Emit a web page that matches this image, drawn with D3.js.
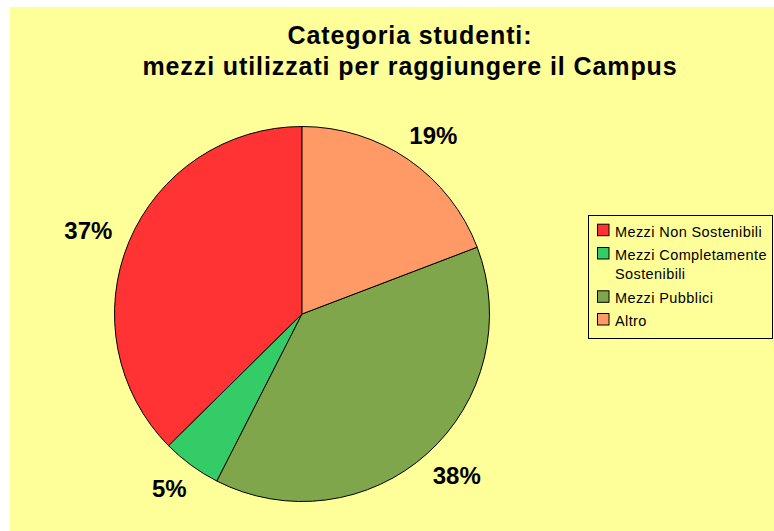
<!DOCTYPE html>
<html>
<head>
<meta charset="utf-8">
<script src="https://cdn.jsdelivr.net/npm/d3@7"></script>
<style>
  body { margin: 0; background: #fff; }
  svg { display: block; }
</style>
</head>
<body>
<svg id="chart"></svg>
<script>
const titleLines = ['Categoria studenti:', 'mezzi utilizzati per raggiungere il Campus'];
const categories = ['Mezzi Non Sostenibili', 'Mezzi Completamente Sostenibili', 'Mezzi Pubblici', 'Altro'];
const legendLines = [['Mezzi Non Sostenibili'], ['Mezzi Completamente', 'Sostenibili'], ['Mezzi Pubblici'], ['Altro']];
const values = [37.4, 5.1, 38.3, 19.2];
const colors = ['#ff3333', '#33cc66', '#7fa64a', '#ff9966'];

const width = 774, height = 531;
const cx = 302, cy = 314, radius = 187.5;

const svg = d3.select('#chart')
  .attr('width', width)
  .attr('height', height)
  .style('font-family', '"Liberation Sans", Arial, sans-serif');

// chart area background
svg.append('rect')
  .attr('x', 10).attr('y', 7)
  .attr('width', width - 10).attr('height', height - 7)
  .attr('fill', '#ffff99');

// title
svg.append('g')
  .selectAll('text')
  .data(titleLines)
  .join('text')
  .attr('x', 410)
  .attr('y', (d, i) => 44 + i * 31)
  .attr('text-anchor', 'middle')
  .attr('font-size', 25)
  .attr('font-weight', 'bold')
  .attr('letter-spacing', 0.9)
  .text(d => d);

// pie, drawn counterclockwise from 12 o'clock
const data = categories.map((c, i) => ({ name: c, value: values[i] }));
const pie = d3.pie().sort(null).value(d => d.value)
  .startAngle(0).endAngle(-2 * Math.PI);
const arcs = pie(data);
const arc = d3.arc().innerRadius(0).outerRadius(radius);
const labelR = radius + 20;

const color = d3.scaleOrdinal().domain(categories).range(colors);

const g = svg.append('g').attr('transform', `translate(${cx},${cy})`);
g.selectAll('path')
  .data(arcs)
  .join('path')
  .attr('d', arc)
  .attr('fill', d => color(d.data.name))
  .attr('stroke', '#000')
  .attr('stroke-width', 1);

// labels sit just outside the rim, pushed away by half their box
const labels = g.selectAll('text')
  .data(arcs)
  .join('text')
  .attr('text-anchor', 'middle')
  .attr('dy', '0.36em')
  .attr('font-size', 24)
  .attr('font-weight', 'bold')
  .text(d => Math.round(d.data.value) + '%');

labels.attr('transform', function(d) {
  const a = (d.startAngle + d.endAngle) / 2;
  const bb = this.getBBox();
  const x = Math.sin(a) * labelR + Math.sin(a) * bb.width / 2;
  const y = -Math.cos(a) * labelR - Math.cos(a) * 9;
  return `translate(${x},${y})`;
});

// legend
const legend = svg.append('g');
legend.append('rect')
  .attr('x', 588.5).attr('y', 215.5)
  .attr('width', 184).attr('height', 123)
  .attr('fill', 'none')
  .attr('stroke', '#000')
  .attr('stroke-width', 1);

const itemY = [236.7, 260, 303.3, 326];
const items = legend.selectAll('g.item')
  .data(categories)
  .join('g')
  .attr('class', 'item')
  .attr('transform', (d, i) => `translate(597,${itemY[i]})`);

items.append('rect')
  .attr('x', 0.5).attr('y', -12.5)
  .attr('width', 11.5).attr('height', 11.5)
  .attr('fill', d => color(d))
  .attr('stroke', '#000');

items.append('text')
  .attr('font-size', 14.5)
  .attr('letter-spacing', 0.4)
  .selectAll('tspan')
  .data((d, i) => legendLines[i])
  .join('tspan')
  .attr('x', 18)
  .attr('y', (d, j) => j * 19.3)
  .text(d => d);
</script>
</body>
</html>
